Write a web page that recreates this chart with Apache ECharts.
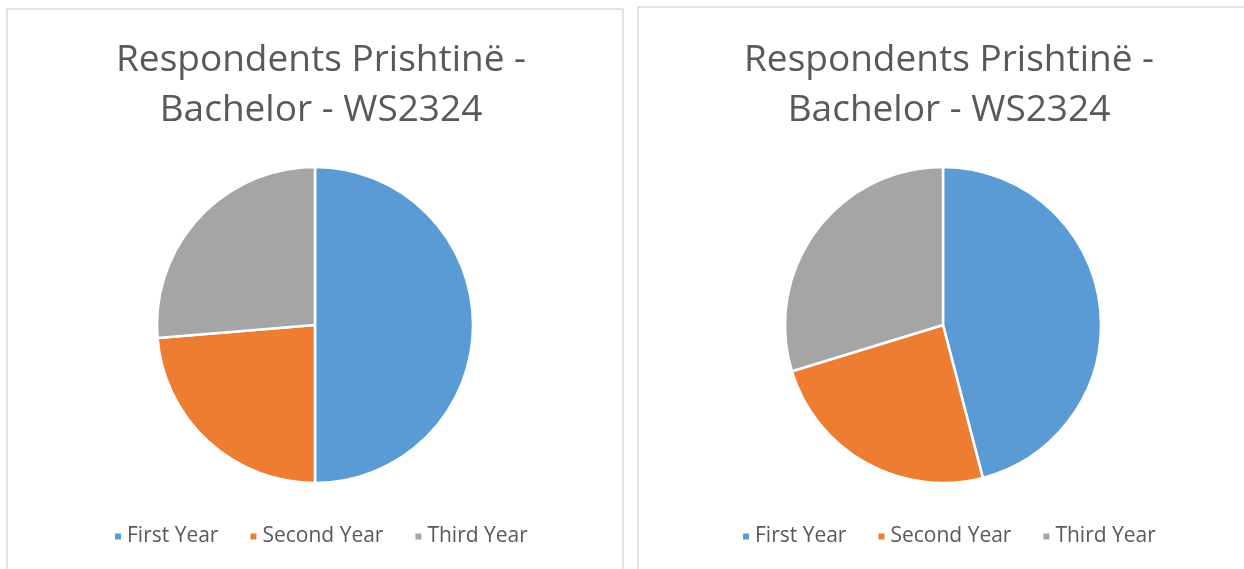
<!DOCTYPE html>
<html>
<head>
<meta charset="utf-8">
<script src="https://cdn.jsdelivr.net/npm/echarts@6/dist/echarts.min.js"></script>
<style>
  html, body { margin: 0; padding: 0; background: #fff; }
  #main { width: 1244px; height: 569px; }
</style>
</head>
<body>
<div id="main"></div>
<script>
// data
var categories = ['First Year', 'Second Year', 'Third Year'];
var leftValues = [19, 9, 10];
var rightValues = [17, 9, 11];
var titleText = 'Respondents Prishtinë -\nBachelor - WS2324';
var colors = ['#5b9bd5', '#ed7d31', '#a5a5a5'];

function toData(vals) {
  return categories.map(function (c, i) { return { name: c, value: vals[i] }; });
}

var myChart = echarts.init(document.getElementById('main'));
var fontFam = '"Open Sans", sans-serif';
var option = {
  backgroundColor: '#fff',
  color: colors,
  animation: false,
  title: [
    {
      text: titleText, left: 316, top: 30, textAlign: 'center',
      textStyle: { color: '#595959', fontSize: 37, fontWeight: 'normal', lineHeight: 50, fontFamily: fontFam }
    },
    {
      text: titleText, left: 944, top: 30, textAlign: 'center',
      textStyle: { color: '#595959', fontSize: 37, fontWeight: 'normal', lineHeight: 50, fontFamily: fontFam }
    }
  ],
  legend: [
    {
      data: categories, left: 108, top: 521, icon: 'rect', itemWidth: 8, itemHeight: 8, itemGap: 30,
      textStyle: { color: '#595959', fontSize: 21, fontFamily: fontFam }
    },
    {
      data: categories, left: 736, top: 521, icon: 'rect', itemWidth: 8, itemHeight: 8, itemGap: 30,
      textStyle: { color: '#595959', fontSize: 21, fontFamily: fontFam }
    }
  ],
  graphic: [
    { type: 'rect', shape: { x: 7, y: 9, width: 616, height: 620 }, style: { fill: 'none', stroke: '#d9d9d9', lineWidth: 1.5 }, silent: true },
    { type: 'rect', shape: { x: 638, y: 7, width: 700, height: 620 }, style: { fill: 'none', stroke: '#d9d9d9', lineWidth: 1.5 }, silent: true }
  ],
  series: [
    {
      type: 'pie', center: [315, 325], radius: 158, startAngle: 90,
      label: { show: false }, labelLine: { show: false },
      itemStyle: { borderColor: '#fff', borderWidth: 2.5 },
      data: toData(leftValues)
    },
    {
      type: 'pie', center: [943, 325], radius: 158, startAngle: 90,
      label: { show: false }, labelLine: { show: false },
      itemStyle: { borderColor: '#fff', borderWidth: 2.5 },
      data: toData(rightValues)
    }
  ]
};
myChart.setOption(option);
</script>
</body>
</html>
